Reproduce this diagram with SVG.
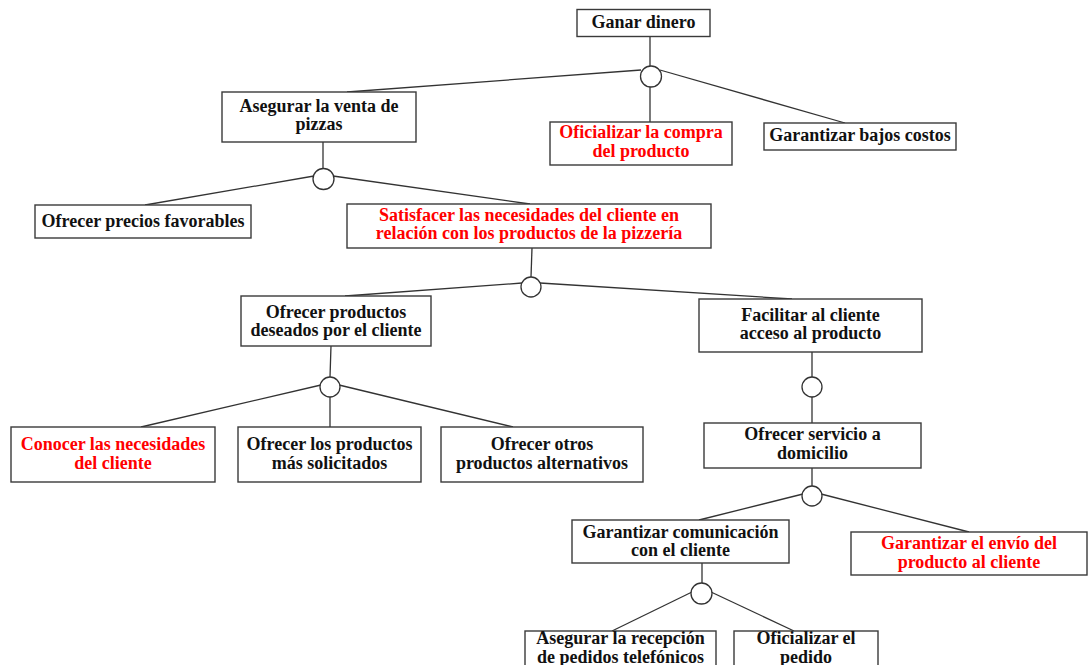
<svg xmlns="http://www.w3.org/2000/svg" width="1088" height="665" viewBox="0 0 1088 665">
<style>
.box{fill:#fff;stroke:#3a3a3a;stroke-width:1.4}
.t{font-family:"Liberation Serif","Times New Roman",serif;font-weight:bold;font-size:18px;fill:#111;text-anchor:middle}
.r{fill:#ff0000}
.c{fill:none;stroke:#333;stroke-width:1.3}
.j{fill:#fff;stroke:#333;stroke-width:1.3}
</style>
<rect width="1088" height="665" fill="#fff"/>
<g id="connectors">
<line class="c" x1="650" y1="36" x2="650" y2="66"/>
<line class="c" x1="641" y1="70" x2="347" y2="92"/>
<line class="c" x1="650" y1="87" x2="650" y2="122"/>
<line class="c" x1="660" y1="70" x2="845" y2="123"/>
<line class="c" x1="323" y1="142" x2="323" y2="169"/>
<line class="c" x1="314" y1="176" x2="145" y2="205"/>
<line class="c" x1="333" y1="176" x2="530" y2="204"/>
<line class="c" x1="532" y1="248" x2="531" y2="277"/>
<line class="c" x1="522" y1="283" x2="345" y2="296"/>
<line class="c" x1="540" y1="283" x2="792" y2="299"/>
<line class="c" x1="331" y1="346" x2="330" y2="377"/>
<line class="c" x1="321" y1="385" x2="141" y2="427"/>
<line class="c" x1="330" y1="397" x2="330" y2="427"/>
<line class="c" x1="339" y1="385" x2="513" y2="427"/>
<line class="c" x1="812" y1="352" x2="812" y2="423"/>
<line class="c" x1="812" y1="468" x2="812" y2="486"/>
<line class="c" x1="803" y1="494" x2="699" y2="520"/>
<line class="c" x1="821" y1="494" x2="969" y2="532"/>
<line class="c" x1="702" y1="563" x2="702" y2="583"/>
<line class="c" x1="692" y1="592" x2="612" y2="631"/>
<line class="c" x1="711" y1="592" x2="794" y2="631"/>
<circle class="j" cx="651" cy="76.5" r="10.5"/>
<circle class="j" cx="323.5" cy="179" r="10.5"/>
<circle class="j" cx="531" cy="287" r="10"/>
<circle class="j" cx="330" cy="387" r="10"/>
<circle class="j" cx="812" cy="387" r="10"/>
<circle class="j" cx="812" cy="496" r="10"/>
<circle class="j" cx="701.5" cy="593.5" r="10.5"/>
</g>
<g id="n-ganar"><rect class="box" x="577" y="9.5" width="133" height="27"/><text class="t" x="643.5" y="28">Ganar dinero</text></g>
<g id="n-asegurar"><rect class="box" x="222" y="92" width="194" height="50"/><text class="t" x="319" y="112">Asegurar la venta de</text><text class="t" x="319" y="130">pizzas</text></g>
<g id="n-oficializar-compra"><rect class="box" x="550" y="122" width="182" height="43"/><text class="t r" x="641" y="138">Oficializar la compra</text><text class="t r" x="641" y="157">del producto</text></g>
<g id="n-bajos-costos"><rect class="box" x="764" y="123" width="192" height="27"/><text class="t" x="860" y="141">Garantizar bajos costos</text></g>
<g id="n-precios"><rect class="box" x="35" y="205" width="216" height="33"/><text class="t" x="143" y="227">Ofrecer precios favorables</text></g>
<g id="n-satisfacer"><rect class="box" x="347" y="204" width="364" height="44"/><text class="t r" x="529" y="221">Satisfacer las necesidades del cliente en</text><text class="t r" x="529" y="239">relación con los productos de la pizzería</text></g>
<g id="n-ofrecer-productos"><rect class="box" x="241" y="296" width="190" height="50"/><text class="t" x="336" y="318">Ofrecer productos</text><text class="t" x="336" y="336">deseados por el cliente</text></g>
<g id="n-facilitar"><rect class="box" x="699" y="299" width="223" height="53"/><text class="t" x="810.5" y="321">Facilitar al cliente</text><text class="t" x="810.5" y="339">acceso al producto</text></g>
<g id="n-conocer"><rect class="box" x="11" y="427" width="204" height="55"/><text class="t r" x="113" y="450">Conocer las necesidades</text><text class="t r" x="113" y="469">del cliente</text></g>
<g id="n-solicitados"><rect class="box" x="238" y="427" width="183" height="55"/><text class="t" x="329.5" y="450">Ofrecer los productos</text><text class="t" x="329.5" y="469">más solicitados</text></g>
<g id="n-alternativos"><rect class="box" x="441" y="427" width="202" height="55"/><text class="t" x="542" y="450">Ofrecer otros</text><text class="t" x="542" y="469">productos alternativos</text></g>
<g id="n-domicilio"><rect class="box" x="704" y="423" width="217" height="45"/><text class="t" x="812.5" y="440">Ofrecer servicio a</text><text class="t" x="812.5" y="459">domicilio</text></g>
<g id="n-comunicacion"><rect class="box" x="572" y="520" width="217" height="43"/><text class="t" x="680.5" y="538">Garantizar comunicación</text><text class="t" x="680.5" y="556">con el cliente</text></g>
<g id="n-envio"><rect class="box" x="851" y="532" width="236" height="43"/><text class="t r" x="969" y="549">Garantizar el envío del</text><text class="t r" x="969" y="568">producto al cliente</text></g>
<g id="n-recepcion"><rect class="box" x="525" y="631" width="191" height="40"/><text class="t" x="620.5" y="644">Asegurar la recepción</text><text class="t" x="620.5" y="663">de pedidos telefónicos</text></g>
<g id="n-pedido"><rect class="box" x="734" y="631" width="144" height="40"/><text class="t" x="806" y="644">Oficializar el</text><text class="t" x="806" y="663">pedido</text></g>
</svg>
